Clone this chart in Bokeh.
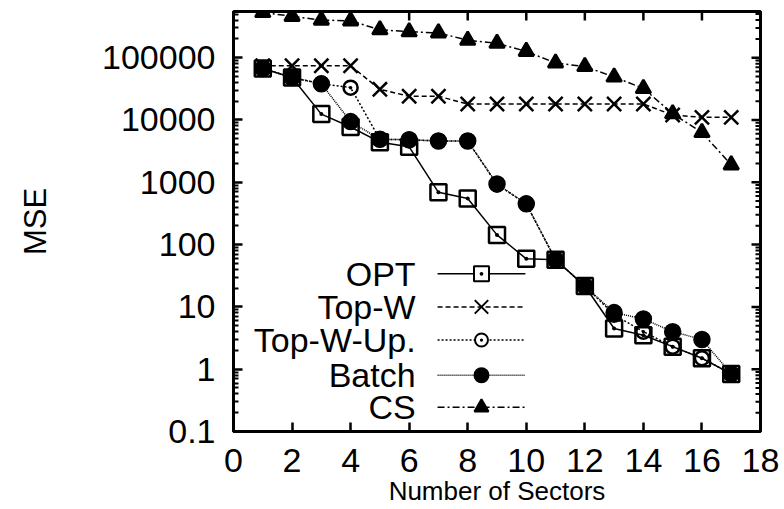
import math

from bokeh.plotting import figure
from bokeh.models import ColumnDataSource, FixedTicker, Range1d
from bokeh.core.properties import value
from bokeh.embed import file_html
from bokeh.resources import INLINE

# Number of sectors on the x axis
sectors = list(range(1, 18))

# Mean squared error per method
opt = [6.7e4, 4.8e4, 1.24e4, 7.7e3, 4.4e3, 3.7e3, 690, 550, 143, 59, 57,
       21.6, 4.5, 3.5, 2.3, 1.5, 0.84]
top_w = [7.4e4, 7.4e4, 7.4e4, 7.4e4, 3.1e4, 2.4e4, 2.4e4, 1.8e4, 1.8e4,
         1.8e4, 1.8e4, 1.8e4, 1.8e4, 1.8e4, 1.2e4, 1.1e4, 1.1e4]
top_w_up = [6.7e4, 4.8e4, 3.8e4, 3.3e4, 4.9e3, 4.8e3, 4.6e3, 4.6e3, 920,
            450, 57, 21.6, 7.5, 4.0, 2.3, 1.5, 0.84]
batch = [6.7e4, 4.8e4, 3.8e4, 9.4e3, 4.9e3, 4.8e3, 4.6e3, 4.6e3, 940, 450,
         57, 21.6, 8.1, 6.4, 4.0, 3.0, 0.84]
cs = [5.3e5, 4.6e5, 4.0e5, 3.9e5, 2.8e5, 2.6e5, 2.5e5, 1.9e5, 1.7e5,
      1.26e5, 8.2e4, 7.2e4, 4.9e4, 3.2e4, 1.26e4, 6.3e3, 1.9e3]

series_names = ["OPT", "Top-W", "Top-W-Up.", "Batch", "CS"]

# Tick values and their labels
x_ticks = [0, 2, 4, 6, 8, 10, 12, 14, 16, 18]
y_ticks = [0.1, 1, 10, 100, 1000, 10000, 100000]
y_tick_labels = ["0.1", "1", "10", "100", "1000", "10000", "100000"]

FONT = "Liberation Sans"
X_MIN, X_MAX = 0, 18
Y_MIN, Y_MAX = 0.1, 5.5e5

# Per-series styling: dash, marker, marker size, fill
styles = {
    "OPT": dict(dash="solid", marker="square_dot", size=16, fill=False),
    "Top-W": dict(dash="5 3", marker="x", size=20, fill=False),
    "Top-W-Up.": dict(dash="2 2", marker="circle_dot", size=14, fill=False),
    "Batch": dict(dash="1 1", marker="circle", size=15, fill=True),
    "CS": dict(dash="7 3 2 3", marker="triangle", size=15, fill=True),
}

p = figure(width=784, height=509, output_backend="svg", toolbar_location=None,
           y_axis_type="log", x_range=Range1d(X_MIN, X_MAX),
           y_range=Range1d(Y_MIN, Y_MAX),
           min_border_left=233, min_border_right=24,
           min_border_top=11, min_border_bottom=78)
p.background_fill_color = "white"
p.border_fill_color = "white"
p.outline_line_color = "black"
p.outline_line_width = 3
p.xgrid.visible = False
p.ygrid.visible = False

minor_log = [m * 10.0 ** e for e in range(-1, 6) for m in range(2, 10)
             if m * 10.0 ** e < Y_MAX]
y_ticker = FixedTicker(ticks=y_ticks, minor_ticks=minor_log)
x_ticker = FixedTicker(ticks=x_ticks, minor_ticks=[])


def style_axis(ax):
    ax.axis_line_width = 3
    ax.axis_line_color = "black"
    ax.major_tick_in = 9
    ax.major_tick_out = 0
    ax.minor_tick_in = 5
    ax.minor_tick_out = 0
    ax.major_tick_line_width = 2.5
    ax.minor_tick_line_width = 2
    ax.major_label_text_font = FONT
    ax.major_label_text_color = "black"
    ax.major_label_text_font_size = "34px"
    ax.axis_label_text_font = FONT
    ax.axis_label_text_font_style = "normal"
    ax.axis_label_text_color = "black"


xa = p.xaxis[0]
xa.ticker = x_ticker
style_axis(xa)
xa.major_label_standoff = 17
xa.axis_label = "Number of Sectors"
xa.axis_label_text_font_size = "26px"
xa.axis_label_standoff = 1

ya = p.yaxis[0]
ya.ticker = y_ticker
style_axis(ya)
ya.major_label_overrides = {t: lab for t, lab in zip(y_ticks, y_tick_labels)}
ya.major_label_standoff = 18
ya.axis_label = "MSE"
ya.axis_label_text_font_size = "31px"
ya.axis_label_standoff = 46

# Mirrored inward ticks along the top and right edges (clipped to the frame)
p.scatter(x=x_ticks, y=[Y_MAX] * len(x_ticks), marker="dash", size=18,
          angle=math.pi / 2, line_color="black", line_width=2.5)
p.scatter(x=[X_MAX] * len(y_ticks), y=y_ticks, marker="dash", size=18,
          line_color="black", line_width=2.5)
p.scatter(x=[X_MAX] * len(minor_log), y=minor_log, marker="dash", size=10,
          line_color="black", line_width=2)

data = {"OPT": opt, "Top-W": top_w, "Top-W-Up.": top_w_up,
        "Batch": batch, "CS": cs}

for name in series_names:
    st = styles[name]
    src = ColumnDataSource(dict(x=sectors, y=data[name]))
    p.line("x", "y", source=src, line_color="black", line_width=1.5,
           line_dash=st["dash"])
    p.scatter("x", "y", source=src, marker=st["marker"], size=st["size"],
              line_color="black", line_width=2.5,
              fill_color="black" if st["fill"] else None,
              fill_alpha=1.0 if st["fill"] else 0.0)

# Legend: label right-aligned, sample line with marker to its right
leg_text_x = 6.22
leg_line_x0 = 6.97
leg_line_x1 = 9.97
leg_marker_x = 8.47
leg_rows_y = [34, 10, 2.94, 0.8, 0.244]

for name, ly in zip(series_names, leg_rows_y):
    st = styles[name]
    p.segment(x0=[leg_line_x0], y0=[ly], x1=[leg_line_x1], y1=[ly],
              line_color="black", line_width=1.5, line_dash=st["dash"])
    p.scatter(x=[leg_marker_x], y=[ly], marker=st["marker"],
              size=st["size"] - 1, line_color="black", line_width=2,
              fill_color="black" if st["fill"] else "white",
              fill_alpha=1.0)
    p.text(x=[leg_text_x], y=[ly], text=[name], text_align="right",
           text_baseline="middle", text_font=value(FONT),
           text_font_size="34px", text_color="black")

open("out.html", "w").write(file_html(p, INLINE))
